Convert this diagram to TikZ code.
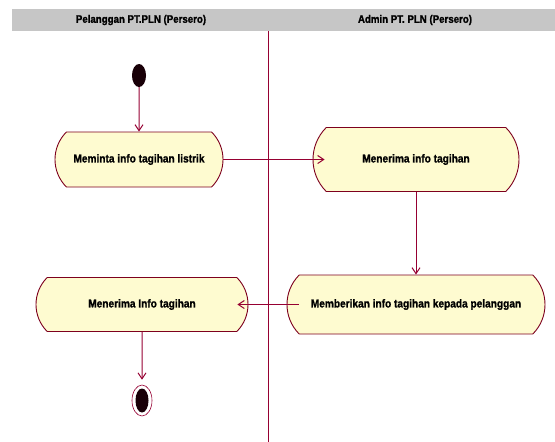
\documentclass[tikz,border=0pt]{standalone}
\usepackage{fontspec}
\setmainfont{Liberation Sans}[FakeStretch=0.88,BoldFeatures={FakeBold=1.2}]
\usetikzlibrary{shapes,arrows.meta,positioning}
\definecolor{lanegray}{RGB}{198,198,198}
\definecolor{flowred}{RGB}{150,0,50}
\definecolor{boxred}{RGB}{125,0,30}
\definecolor{boxfill}{RGB}{254,251,208}
\definecolor{dotblack}{RGB}{25,0,8}

\begin{document}
\begin{tikzpicture}[x=1pt,y=-1pt,>={Straight Barb[length=6pt,width=8pt]},
  act/.style={rounded rectangle,rounded rectangle arc length=90,draw=boxred,
    fill=boxfill,line width=0.9pt,inner sep=0pt,
    font=\bfseries\fontsize{11.5}{13}\selectfont},
  flow/.style={->,draw=flowred,line width=1pt},
  lane/.style={font=\bfseries\fontsize{11}{13}\selectfont}]
\useasboundingbox (0,0) rectangle (555,442);
\fill[lanegray] (12,9) rectangle (555,31);
\node[lane] (pelanggan) at (141,20) {Pelanggan PT.PLN (Persero)};
\node[lane] (admin) at (415,20) {Admin PT. PLN (Persero)};
\draw[flowred,line width=1pt] (268,31) -- (268,442);
\node[ellipse,fill=dotblack,minimum width=14,minimum height=23,inner sep=0pt]
  (mulai) at (139,75.5) {};
\node[act,minimum width=168,minimum height=55] (minta) at (139,159.5)
  {Meminta info tagihan listrik};
\node[act,minimum width=206,minimum height=64] (terima) at (416,159.5)
  {Menerima info tagihan};
\node[act,minimum width=258,minimum height=59] (beri) at (416,304.5)
  {Memberikan info tagihan kepada pelanggan};
\node[act,minimum width=212,minimum height=54] (terimaInfo) at (142,304.5)
  {Menerima Info tagihan};
\node[ellipse,draw=flowred,line width=0.6pt,minimum width=20,minimum height=31,
  inner sep=0pt] (selesai) at (142,400.5) {};
\node[ellipse,fill=dotblack,minimum width=13,minimum height=24,inner sep=0pt]
  (selesaiDot) at (selesai) {};
\draw[flow] (mulai) -- (minta);
\draw[flow,shorten >=-12pt] (minta.east) -- (terima.west);
\draw[flow] (terima.south) -- (beri.north);
\draw[flow,shorten <=-12pt,shorten >=-11pt] (beri.west) -- (terimaInfo.east);
\draw[flow,shorten >=5pt] (terimaInfo) -- (selesai);
\end{tikzpicture}
\end{document}
